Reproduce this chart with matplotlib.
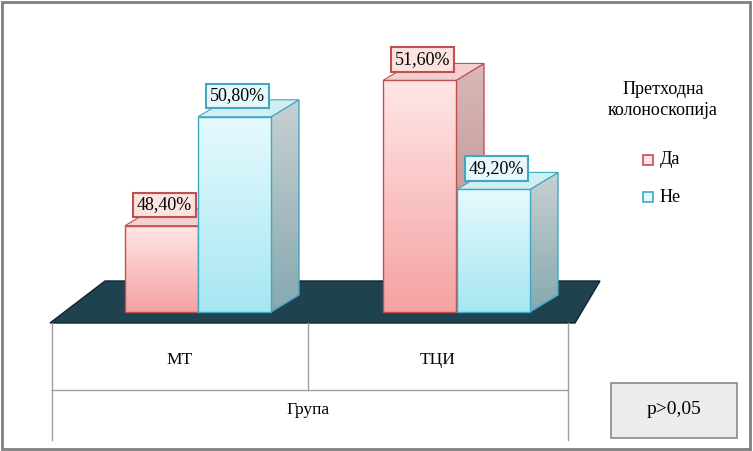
import matplotlib.pyplot as plt
import numpy as np
from matplotlib.patches import Polygon, Rectangle, FancyBboxPatch
from matplotlib.colors import LinearSegmentedColormap

groups = ["МТ", "ТЦИ"]
series = ["Да", "Не"]
values = {"Да": [48.4, 51.6], "Не": [50.8, 49.2]}
axis_title = "Група"
legend_title = "Претходна\nколоноскопија"
note = "p>0,05"

plt.rcParams["font.family"] = "Liberation Serif"

fig = plt.figure(figsize=(7.53, 4.51), dpi=100)
ax = fig.add_axes([0, 0, 1, 1])
ax.set_xlim(0, 753)
base = 46.5
scale = 45.4  # px per percent
ax.set_ylim(base - 139 / scale, base + 312 / scale)
ax.axis("off")


def py(p):
    # pixel row -> data y
    return base + (312 - p) / scale


# outer frame
ax.add_patch(Rectangle((2, py(449)), 748, py(2) - py(449), fill=False, ec="#7f7f7f", lw=2))

# floor
floor = [(50, py(323)), (575, py(323)), (600, py(281)), (105, py(281))]
ax.add_patch(Polygon(floor, closed=True, fc="#1f4250", ec="#0e2630", lw=1, zorder=1))

# category axis lines
for x in [52, 308, 568]:
    ax.plot([x, x], [py(323), py(390)], color="#a0a0a0", lw=1)
for x in [52, 568]:
    ax.plot([x, x], [py(390), py(440)], color="#a0a0a0", lw=1)
ax.plot([52, 568], [py(390), py(390)], color="#a0a0a0", lw=1)
for i, g in enumerate(groups):
    ax.text(180 + i * 258, py(360), g, ha="center", va="center", fontsize=12.5)
ax.text(308, py(410), axis_title, ha="center", va="center", fontsize=12.5)

styles = {
    "Да": dict(c0="#ffe6e6", c1="#f5a2a2", side="#b98585", top="#f2d0d0", edge="#c05050", box="#fde2e2"),
    "Не": dict(c0="#e6fafd", c1="#a6e6f2", side="#86a9b0", top="#d2eef2", edge="#40a8c0", box="#e6f8fc"),
}
dx, dy = 28, 17 / scale
w = 73
starts = [[125, 198], [383, 457]]


def grad_poly(pts, c0, c1, z, edge):
    cmap = LinearSegmentedColormap.from_list("g", [c1, c0])
    xs = [p[0] for p in pts]
    ys = [p[1] for p in pts]
    grad = np.linspace(0, 1, 64).reshape(-1, 1)
    im = ax.imshow(grad, extent=[min(xs), max(xs), min(ys), max(ys)], origin="lower",
                   cmap=cmap, aspect="auto", zorder=z)
    poly = Polygon(pts, fc="none", ec=edge, lw=1, zorder=z + 0.05)
    ax.add_patch(poly)
    im.set_clip_path(poly)


for gi in range(len(groups)):
    for si, s in enumerate(series):
        st = styles[s]
        v = values[s][gi]
        x0 = starts[gi][si]
        x1 = x0 + w
        yb = py(312)
        z = 3 + si
        # side face
        grad_poly([(x1, yb), (x1 + dx, yb + dy), (x1 + dx, v + dy), (x1, v)],
                  "#c8d0d2" if s == "Не" else "#d8b8b8", st["side"], z, st["edge"])
        # top face
        ax.add_patch(Polygon([(x0, v), (x1, v), (x1 + dx, v + dy), (x0 + dx, v + dy)],
                             fc=st["top"], ec=st["edge"], lw=0.8, zorder=z + 0.1))
        grad_poly([(x0, yb), (x1, yb), (x1, v), (x0, v)], st["c0"], st["c1"], z + 0.2, st["edge"])
        lab = f"{v:.2f}%".replace(".", ",")
        ax.text(x0 + w / 2 + 3, v + 21 / scale, lab, ha="center", va="center", fontsize=13, zorder=10,
                bbox=dict(boxstyle="square,pad=0.2", fc=st["box"], ec=st["edge"], lw=1.5))

# legend
ax.text(663, py(100), legend_title, ha="center", va="center", fontsize=13, linespacing=1.3)
for si, s in enumerate(series):
    yy = py(160 + si * 37)
    ax.add_patch(Rectangle((643, yy - 5 / scale), 10, 10 / scale, fc=styles[s]["box"],
                           ec=styles[s]["edge"], lw=1.2))
    ax.text(660, yy, s, ha="left", va="center", fontsize=13)

# p-value box
ax.add_patch(FancyBboxPatch((611, py(438)), 126, py(383) - py(438), boxstyle="square,pad=0",
                            fc="#ececec", ec="#8a8a8a", lw=1.2))
ax.text(674, py(410), note, ha="center", va="center", fontsize=14)

fig.savefig("out.png", dpi=100)
